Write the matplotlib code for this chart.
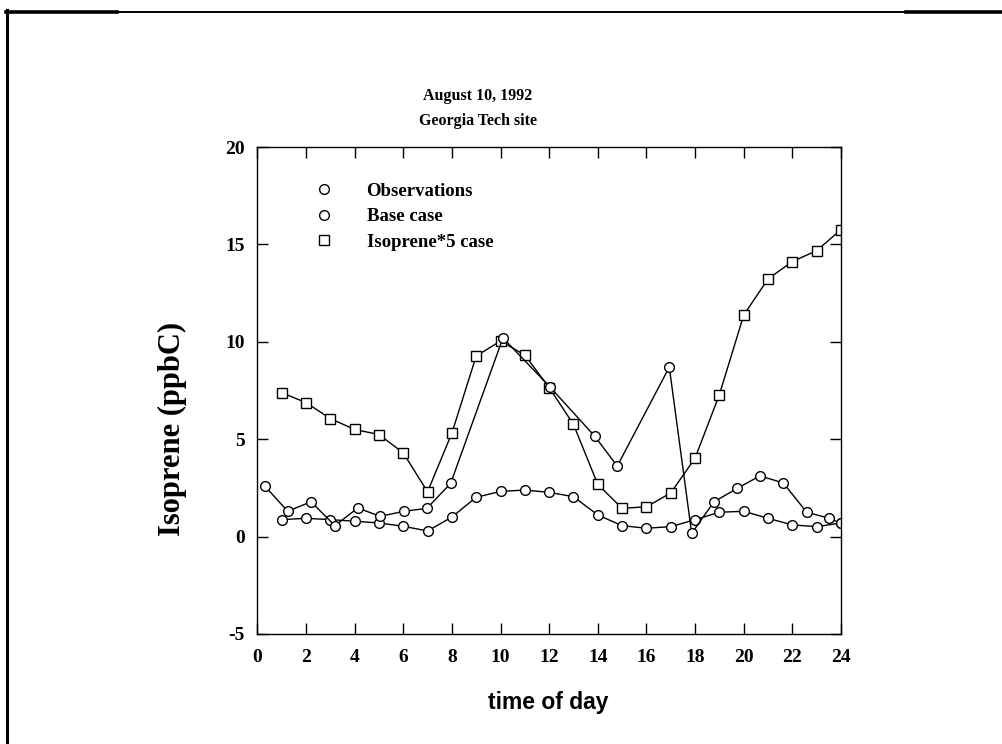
import numpy as np
import matplotlib
matplotlib.use("Agg")
from matplotlib import pyplot as plt
from matplotlib.lines import Line2D

plt.rcParams["axes.unicode_minus"] = False

# Observações medidas (hora, ppbC)
t_obs = [0.32, 1.25, 2.21, 3.19, 4.13, 5.05, 6.03, 6.97, 7.95, 10.1, 12.02,
         13.87, 14.8, 16.94, 17.86, 18.78, 19.74, 20.67, 21.63, 22.59, 23.52, 24.0]
y_obs = [2.58, 1.30, 1.79, 0.56, 1.47, 1.04, 1.30, 1.45, 2.73, 10.2, 7.70,
         5.16, 3.62, 8.70, 0.17, 1.79, 2.48, 3.12, 2.75, 1.25, 0.94, 0.68]

# Caso base do modelo
t_base = [1, 2, 3, 4, 5, 6, 7, 8, 9, 10, 11, 12, 13, 14, 15, 16, 17, 18, 19, 20, 21, 22, 23, 24]
y_base = [0.87, 0.94, 0.87, 0.79, 0.70, 0.53, 0.29, 1.00, 2.02, 2.32, 2.39, 2.27,
          2.05, 1.11, 0.56, 0.43, 0.51, 0.87, 1.25, 1.30, 0.94, 0.60, 0.51, 0.70]

# Caso com emissão de isopreno x5
t_iso5 = [1, 2, 3, 4, 5, 6, 7, 8, 9, 10, 11, 12, 13, 14, 15, 16, 17, 18, 19, 20, 21, 22, 23, 24]
y_iso5 = [7.39, 6.88, 6.06, 5.50, 5.24, 4.30, 2.30, 5.31, 9.27, 10.04, 9.32, 7.65,
          5.76, 2.68, 1.45, 1.53, 2.24, 4.03, 7.29, 11.37, 13.23, 14.12, 14.68, 15.76]

x_ticks = np.arange(0, 25, 2)
y_ticks = np.arange(-5, 21, 5)

serif = "Liberation Serif"
W, H = 1002, 744

fig = plt.figure(figsize=(W / 100, H / 100), dpi=100)

# Moldura da página
fig.add_artist(Line2D([7 / W, 7 / W], [0, 1 - 10 / H], color="black", lw=2.2, transform=fig.transFigure))
fig.add_artist(Line2D([6 / W, 1], [1 - 11.5 / H, 1 - 11.5 / H], color="black", lw=1.4, transform=fig.transFigure))
fig.add_artist(Line2D([6 / W, 117 / W], [1 - 11.5 / H, 1 - 11.5 / H], color="black", lw=2.6, transform=fig.transFigure))
fig.add_artist(Line2D([906 / W, 1], [1 - 11.5 / H, 1 - 11.5 / H], color="black", lw=2.6, transform=fig.transFigure))

ax = fig.add_axes([257.3 / W, 1 - 634 / H, (841 - 257.3) / W, (634 - 147) / H])

estilo = dict(color="black", lw=1.0, markerfacecolor="white", markeredgecolor="black",
              markeredgewidth=1.0, markersize=7)
ax.plot(t_base, y_base, marker="o", **estilo)
ax.plot(t_iso5, y_iso5, marker="s", **estilo)
ax.plot(t_obs, y_obs, marker="o", **estilo)

ax.set_xlim(0, 24)
ax.set_ylim(-5, 20)
ax.set_xticks(x_ticks)
ax.set_yticks(y_ticks)
ax.tick_params(direction="in", length=8, width=1, top=True, right=True)
ax.tick_params(axis="x", pad=11)
ax.tick_params(axis="y", pad=9)
for lab in ax.get_xticklabels() + ax.get_yticklabels():
    lab.set_fontfamily(serif)
    lab.set_fontweight("bold")
    lab.set_fontsize(14)
for s in ax.spines.values():
    s.set_linewidth(1.0)

# Legenda só com marcadores
handles = [Line2D([], [], ls="none", marker="o", markerfacecolor="white", markeredgecolor="black", markersize=7),
           Line2D([], [], ls="none", marker="o", markerfacecolor="white", markeredgecolor="black", markersize=7),
           Line2D([], [], ls="none", marker="s", markerfacecolor="white", markeredgecolor="black", markersize=7)]
ax.legend(handles, ["Observations", "Base case", "Isoprene*5 case"], loc="upper left",
          bbox_to_anchor=(0.07, 0.962), frameon=False, handlelength=1.0, handletextpad=1.75,
          labelspacing=0.45, prop={"family": serif, "weight": "bold", "size": 13.5})

fig.text(478 / W, 1 - 96 / H, "August 10, 1992", ha="center", va="center",
         family=serif, weight="bold", fontsize=11.5)
fig.text(478 / W, 1 - 121 / H, "Georgia Tech site", ha="center", va="center",
         family=serif, weight="bold", fontsize=11.5)
fig.text(172 / W, 1 - 429 / H, "Isoprene (ppbC)", ha="center", va="center", rotation=90,
         family=serif, weight="bold", fontsize=22)
fig.text(548 / W, 1 - 703 / H, "time of day", ha="center", va="center",
         family="Liberation Sans", weight="bold", fontsize=16.5)

plt.savefig("out.png", dpi=100)
